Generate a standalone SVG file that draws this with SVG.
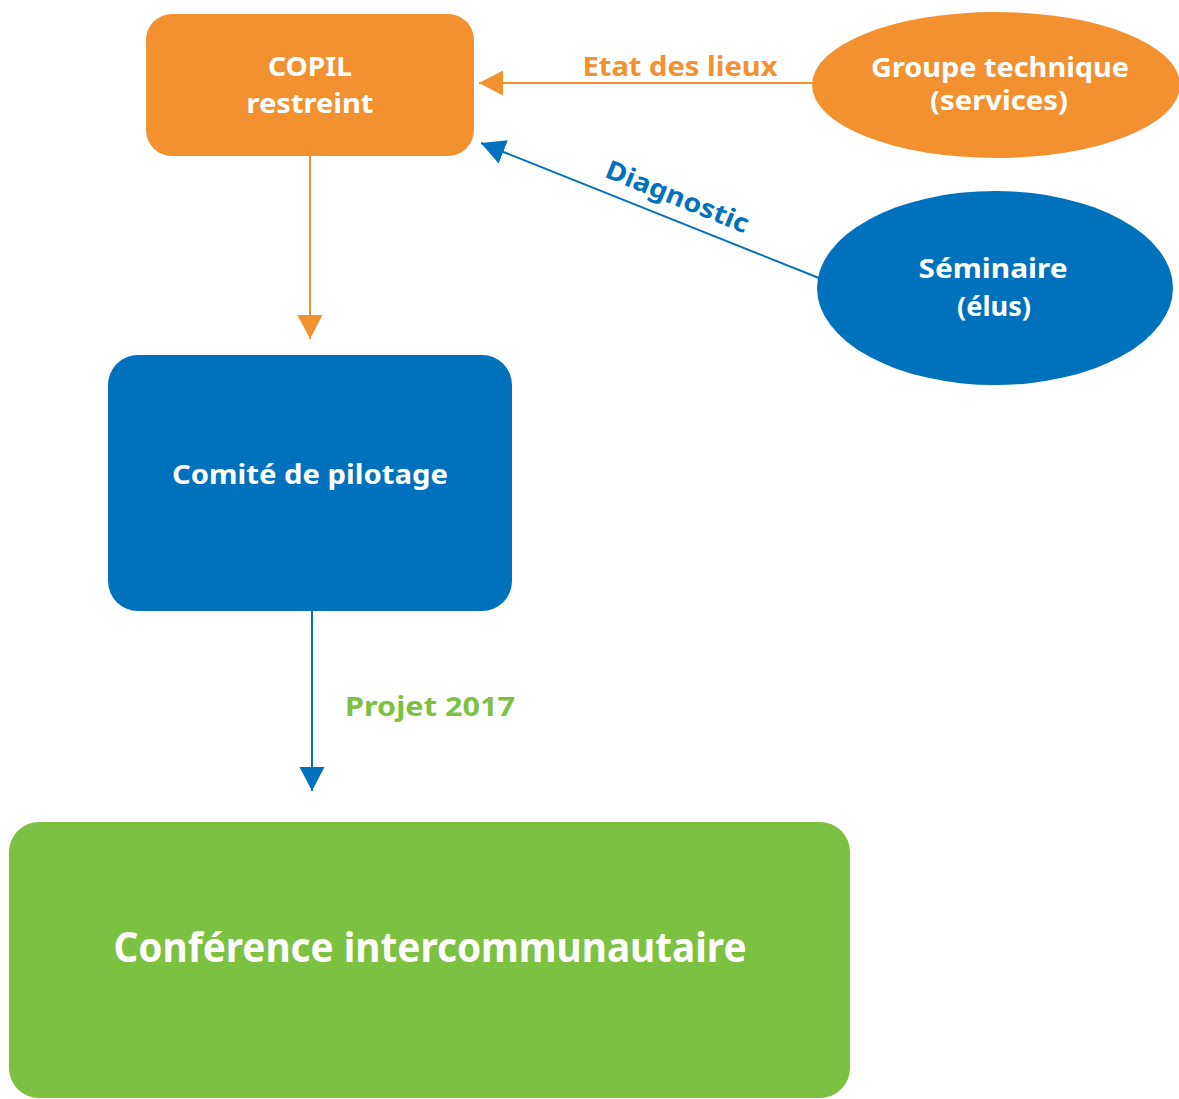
<svg xmlns="http://www.w3.org/2000/svg" width="1179" height="1099" viewBox="0 0 1179 1099">
<style>
  text { font-family: "Noto Sans", "Open Sans", "Liberation Sans", sans-serif; font-weight: 700; }
  .w { fill: #ffffff; }
  .lbl { font-size: 26px; }
  .orange { fill: #F39130; }
  .blue { fill: #0071BC; }
  .green { fill: #7DC142; }
  .lo { stroke: #F39130; stroke-width: 2; fill: none; }
  .lb { stroke: #0071BC; stroke-width: 2; fill: none; }
</style>
<defs>
  <marker id="ao" markerUnits="userSpaceOnUse" markerWidth="26" markerHeight="26" refX="24" refY="12.5" orient="auto">
    <path d="M0,0 L24,12.5 L0,25 z" fill="#F39130"/>
  </marker>
  <marker id="ab" markerUnits="userSpaceOnUse" markerWidth="26" markerHeight="26" refX="24" refY="12.5" orient="auto">
    <path d="M0,0 L24,12.5 L0,25 z" fill="#0071BC"/>
  </marker>
</defs>
<rect width="1179" height="1099" fill="#ffffff"/>

<g id="connectors">
  <line class="lo" x1="813" y1="83" x2="479" y2="83" marker-end="url(#ao)"/>
  <line class="lo" x1="310" y1="156" x2="310" y2="339" marker-end="url(#ao)"/>
  <line class="lb" x1="819" y1="278" x2="481" y2="143" marker-end="url(#ab)"/>
  <line class="lb" x1="312" y1="610" x2="312" y2="791" marker-end="url(#ab)"/>
  <text class="lbl orange" x="680" y="76" text-anchor="middle" textLength="195" lengthAdjust="spacingAndGlyphs">Etat des lieux</text>
  <text class="lbl blue" x="0" y="0" text-anchor="middle" textLength="152" lengthAdjust="spacingAndGlyphs" transform="translate(674,205) rotate(22)">Diagnostic</text>
  <text class="lbl green" x="430" y="716" text-anchor="middle" textLength="170" lengthAdjust="spacingAndGlyphs">Projet 2017</text>
</g>

<g id="copil">
  <rect x="146" y="14" width="328" height="142" rx="26" class="orange"/>
  <text class="lbl w" x="310" y="76" text-anchor="middle" textLength="84" lengthAdjust="spacingAndGlyphs">COPIL</text>
  <text class="lbl w" x="310" y="113" text-anchor="middle" textLength="127" lengthAdjust="spacingAndGlyphs">restreint</text>
</g>

<g id="groupe">
  <ellipse cx="996" cy="85" rx="184" ry="73" class="orange"/>
  <text class="lbl w" x="1000" y="77" text-anchor="middle" textLength="258" lengthAdjust="spacingAndGlyphs">Groupe technique</text>
  <text class="lbl w" x="999" y="110" text-anchor="middle" textLength="138" lengthAdjust="spacingAndGlyphs">(services)</text>
</g>

<g id="seminaire">
  <ellipse cx="995" cy="288" rx="178" ry="97" class="blue"/>
  <text class="lbl w" x="993" y="278" text-anchor="middle" textLength="149" lengthAdjust="spacingAndGlyphs">Séminaire</text>
  <text class="lbl w" x="994" y="316" text-anchor="middle" textLength="74" lengthAdjust="spacingAndGlyphs">(élus)</text>
</g>

<g id="comite">
  <rect x="108" y="355" width="404" height="256" rx="30" class="blue"/>
  <text class="lbl w" x="310" y="484" text-anchor="middle" textLength="276" lengthAdjust="spacingAndGlyphs">Comité de pilotage</text>
</g>

<g id="conference">
  <rect x="9" y="822" width="841" height="276" rx="30" class="green"/>
  <text class="w" font-size="42" x="430" y="962" text-anchor="middle" textLength="633" lengthAdjust="spacingAndGlyphs">Conférence intercommunautaire</text>
</g>
</svg>
